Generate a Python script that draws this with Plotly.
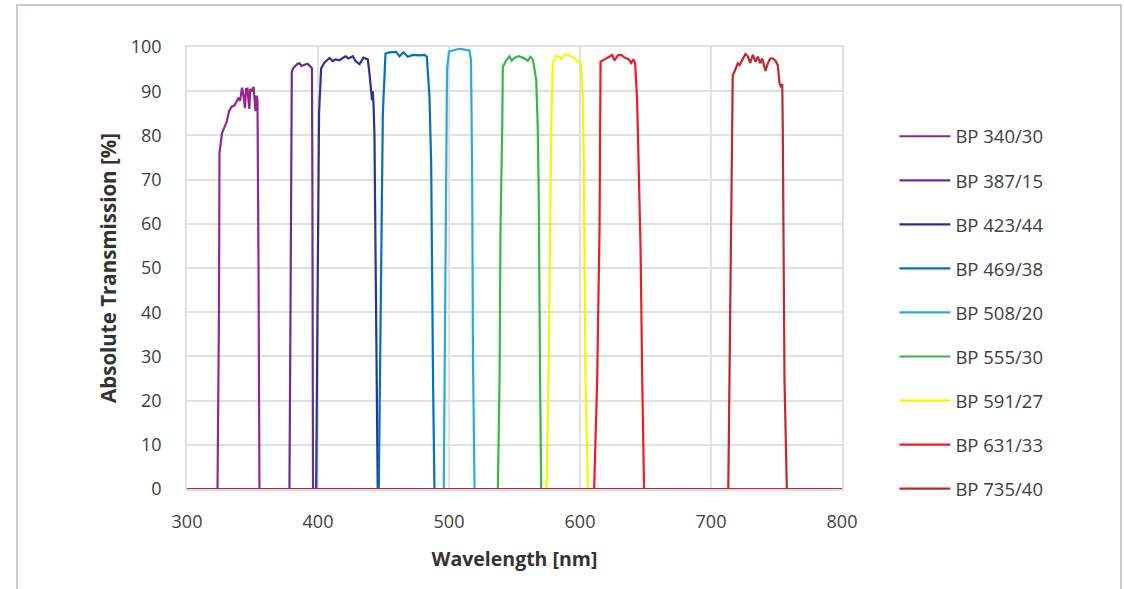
import plotly.graph_objects as go

# ---- data (wavelength in nm, transmission in %) ----
names = ["BP 340/30", "BP 387/15", "BP 423/44", "BP 469/38", "BP 508/20",
         "BP 555/30", "BP 591/27", "BP 631/33", "BP 735/40"]
colors = ["#93278f", "#6d2d91", "#2e3192", "#0072bc", "#29abe2",
          "#39b54a", "#fff200", "#ed1c24", "#c1272d"]

x_340 = [300, 323.3, 324.4, 324.8, 326.7, 328.6, 330.2, 332.1, 334.0, 336.3, 337.8, 339.3, 340.5,
         342.0, 343.1, 344.3, 345.0, 346.2, 346.9, 347.6, 348.3, 349.6, 350.8, 351.5, 352.3,
         353.1, 353.8, 354.6, 355.3, 800]
y_340 = [0, 0, 40, 76, 80.5, 82, 83, 85.5, 86.5, 86.8, 87.5, 88.5, 87.8,
         90.8, 89, 86.2, 90.5, 90.6, 88, 86, 90.5, 90, 91, 88.5, 85.5,
         89, 88, 50, 0, 0]

x_387 = [300, 378.2, 379.2, 380.0, 381.3, 382.8, 384.4, 385.9, 387.4, 389.7, 392.0, 393.5,
         395.4, 395.7, 396.2, 800]
y_387 = [0, 0, 50, 94.4, 95.3, 95.7, 96.2, 96.3, 95.7, 96.0, 96.2, 95.8,
         95.2, 70, 0, 0]

x_423 = [300, 398.6, 399.6, 400.8, 402.4, 405.0, 408.8, 411.1, 413.4, 416.4, 418.7, 421.0,
         423.3, 426.6, 428.6, 431.7, 434.7, 438.0, 439.3, 440.6, 441.2, 441.8, 442.4, 443.1,
         444.3, 445.6, 800]
y_423 = [0, 0, 40, 85, 95.2, 96.5, 97.5, 96.8, 97.2, 97.0, 97.5, 97.9,
         97.4, 97.9, 96.8, 96.1, 97.6, 97.2, 94, 90.3, 88, 90, 87, 80,
         40, 0, 0]

x_469 = [300, 446.4, 448.2, 449.5, 451.5, 454.6, 459.7, 462.2, 465.3, 468.6, 472.4, 477.5,
         481.3, 483.1, 485.1, 486.4, 487.8, 488.9, 800]
y_469 = [0, 0, 50, 85, 98.5, 98.8, 98.9, 97.9, 98.8, 97.8, 98.2, 98.1,
         98.2, 97.8, 88.7, 73.7, 25, 0, 0]

x_508 = [300, 496.0, 497.3, 498.5, 500.0, 504.2, 508.0, 511.8, 515.6, 516.8, 517.7, 518.3, 519.5, 800]
y_508 = [0, 0, 50, 95, 99.0, 99.3, 99.6, 99.4, 99.2, 97, 70, 30, 0, 0]

x_555 = [300, 537.3, 538.6, 539.3, 540.6, 541.1, 543.7, 546.2, 547.9, 550.0, 553.3, 556.3,
         560.2, 562.2, 564.0, 566.6, 567.8, 568.5, 569.5, 570.4, 800]
y_555 = [0, 0, 25, 58.6, 81.2, 95.5, 97.0, 97.9, 96.9, 97.6, 97.9, 97.6,
         96.9, 97.8, 97.2, 92.5, 81.2, 66, 25, 0, 0]

x_591 = [300, 574.4, 576.0, 577.3, 578.0, 579.2, 581.3, 583.1, 585.7, 588.2, 590.7, 593.3,
         595.8, 597.6, 599.6, 600.9, 602.1, 602.9, 604.2, 606.1, 800]
y_591 = [0, 0, 25, 58.6, 81.2, 96.3, 97.8, 97.9, 97.4, 98.2, 98.3, 97.8,
         97.6, 96.9, 96.7, 96.3, 88.7, 73.7, 24.7, 0, 0]

x_631 = [300, 610.8, 613.1, 614.9, 615.7, 617.4, 620.0, 622.5, 624.6, 626.3, 628.9, 631.5,
         634.0, 637.3, 639.1, 640.8, 642.1, 643.6, 644.8, 646.2, 647.5, 648.9, 800]
y_631 = [0, 0, 24.7, 58.6, 96.7, 97.0, 97.4, 97.9, 98.2, 97.0, 98.1, 98.2,
         97.6, 97.2, 96.4, 97.2, 96.3, 88, 75, 55, 24.7, 0, 0]

x_735 = [300, 713.2, 714.1, 715.4, 716.6, 717.9, 719.2, 720.5, 721.8, 723.8, 726.3, 728.1,
         729.9, 731.9, 734.0, 735.7, 737.6, 739.1, 741.6, 743.4, 745.2, 747.2, 749.2,
         751.0, 752.3, 753.6, 754.4, 754.8, 755.3, 756.1, 757.9, 800]
y_735 = [0, 0, 24.7, 58.6, 93.6, 94.4, 95.5, 96.3, 95.9, 97.0, 98.4, 97.9,
         96.4, 98.2, 96.7, 97.8, 96.3, 97.4, 94.6, 96.3, 97.4, 97.4, 96.9,
         95.9, 91.8, 90.9, 91.6, 81.2, 58.6, 24.7, 0, 0]

xs = [x_340, x_387, x_423, x_469, x_508, x_555, x_591, x_631, x_735]
ys = [y_340, y_387, y_423, y_469, y_508, y_555, y_591, y_631, y_735]

x_ticks = [300, 400, 500, 600, 700, 800]
y_ticks = [0, 10, 20, 30, 40, 50, 60, 70, 80, 90, 100]

FONT = "Open Sans, Noto Sans, sans-serif"
GRID = "#dde2e8"
TXT = "#404040"

fig = go.Figure()
for n, c, xv, yv in zip(names, colors, xs, ys):
    fig.add_trace(go.Scatter(x=xv, y=yv, mode="lines", name=n, legendgroup=n,
                             line=dict(color=c, width=2.2)))

fig.update_layout(
    width=1124, height=589,
    margin=dict(l=187, r=282, t=47, b=100),
    paper_bgcolor="white", plot_bgcolor="white",
    font=dict(family=FONT, size=18, color=TXT),
    showlegend=True,
    legend=dict(x=1.08, xanchor="left", y=0.84, yanchor="top",
                font=dict(size=18.5, color=TXT), tracegroupgap=17,
                itemwidth=51,
                bgcolor="rgba(0,0,0,0)"),
    xaxis=dict(range=[300, 800], tickvals=x_ticks, showgrid=True, gridcolor=GRID, gridwidth=1.5,
               showline=True, linecolor=GRID, linewidth=1.5, mirror=True, zeroline=False,
               ticks="outside", ticklen=16, tickcolor="rgba(0,0,0,0)",
               tickfont=dict(size=18, color=TXT),
               title=dict(text="<b>Wavelength [nm]</b>", font=dict(size=19.5, color="#333333"), standoff=20)),
    yaxis=dict(range=[0, 100], tickvals=y_ticks, showgrid=True, gridcolor=GRID, gridwidth=1.5,
               showline=True, linecolor=GRID, linewidth=1.5, mirror=True, zeroline=False,
               ticks="outside", ticklen=20, tickcolor="rgba(0,0,0,0)",
               tickfont=dict(size=18, color=TXT),
               title=dict(text="<b>Absolute Transmission [%]</b>", font=dict(size=20.5, color="#333333"), standoff=9)),
    shapes=[dict(type="rect", xref="paper", yref="paper",
                 x0=(17 - 187) / 655, x1=(1121 - 187) / 655,
                 y0=(489 - 620) / 442, y1=(489 - 5) / 442,
                 line=dict(color="#b4bac3", width=1.5), layer="below")],
)

fig.write_html("out.html")
